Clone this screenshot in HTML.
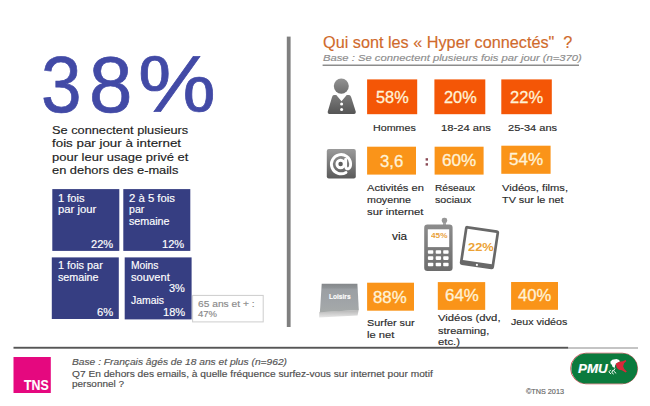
<!DOCTYPE html>
<html><head><meta charset="utf-8"><title>Hyper connectés</title>
<style>
html,body{margin:0;padding:0;background:#fff;}
body{width:650px;height:406px;position:relative;overflow:hidden;font-family:"Liberation Sans", sans-serif;}
.t{position:absolute;white-space:pre;line-height:1;transform-origin:0 0;font-family:"Liberation Sans", sans-serif;-webkit-text-stroke:0.15px currentColor;}
.b{position:absolute;}
</style></head><body>
<svg class="b" style="left:0;top:0;" width="650" height="406" viewBox="0 0 650 406">
<defs>
<linearGradient id="gp" x1="0" y1="0" x2="0" y2="1"><stop offset="0" stop-color="#7c7c7c"/><stop offset="1" stop-color="#555"/></linearGradient>
<linearGradient id="gh" x1="0" y1="0" x2="0" y2="1"><stop offset="0" stop-color="#939393"/><stop offset="1" stop-color="#6e6e6e"/></linearGradient>
<linearGradient id="ga" x1="0" y1="0" x2="0" y2="1"><stop offset="0" stop-color="#9a9a9a"/><stop offset="1" stop-color="#5a5a5a"/></linearGradient>
<linearGradient id="gl" x1="0" y1="0" x2="0" y2="1"><stop offset="0" stop-color="#84878a"/><stop offset="0.14" stop-color="#8f9396"/><stop offset="0.2" stop-color="#9b9fa3"/><stop offset="0.7" stop-color="#a1a5a8"/><stop offset="1" stop-color="#a6aaa9"/></linearGradient>
<linearGradient id="gs" x1="0" y1="0" x2="0" y2="1"><stop offset="0" stop-color="#b4b4b4"/><stop offset="1" stop-color="#e8e8e8"/></linearGradient>
<linearGradient id="gph" x1="0" y1="0" x2="0" y2="1"><stop offset="0" stop-color="#8c8c8c"/><stop offset="1" stop-color="#6c6c6c"/></linearGradient>
</defs>
<rect x="52.30" y="189.10" width="67.00" height="61.80" fill="#363e82"/>
<rect x="123.30" y="189.10" width="67.00" height="61.80" fill="#363e82"/>
<rect x="51.80" y="257.40" width="67.00" height="61.60" fill="#363e82"/>
<rect x="124.70" y="257.40" width="66.90" height="62.00" fill="#363e82"/>
<rect x="192.60" y="295.40" width="70.60" height="26.50" fill="#fff" stroke="#cdcdcd" stroke-width="1"/>
<rect x="286.80" y="36.60" width="3.80" height="290.40" fill="#7f7f7f"/>
<rect x="322.60" y="64.60" width="256.40" height="1.20" fill="#707070"/>
<rect x="13.50" y="346.80" width="554.60" height="1.90" fill="#555"/>
<rect x="568.00" y="347.50" width="70.00" height="1.00" fill="#8a8a8a"/>
<rect x="13.50" y="357.00" width="37.30" height="36.00" fill="#e5087f"/>
<rect x="367.10" y="79.40" width="50.10" height="34.80" fill="#f45606"/>
<rect x="434.40" y="79.40" width="50.90" height="34.80" fill="#f45606"/>
<rect x="501.30" y="79.40" width="50.50" height="34.80" fill="#f45606"/>
<rect x="367.10" y="146.70" width="48.90" height="27.90" fill="#fa9419"/>
<rect x="434.60" y="146.70" width="49.00" height="27.90" fill="#fa9419"/>
<rect x="501.30" y="145.70" width="49.30" height="28.10" fill="#fa9419"/>
<rect x="367.10" y="282.70" width="46.90" height="28.00" fill="#fa9419"/>
<rect x="437.80" y="282.10" width="47.40" height="27.80" fill="#fa9419"/>
<rect x="511.10" y="282.00" width="46.90" height="27.80" fill="#fa9419"/>
<rect x="425.60" y="158.20" width="2.40" height="2.40" fill="#8a4a55"/>
<rect x="425.60" y="163.20" width="2.40" height="2.40" fill="#8a4a55"/>
<!-- person -->
<ellipse cx="341.3" cy="86.1" rx="7.5" ry="7.7" fill="url(#gh)"/>
<path transform="translate(0.5 0)" d="M333.3 95 L335.8 95 L341 101.2 L346.2 95 L348.7 95 Q350.2 95.2 350.8 97.5 L355.3 111.8 Q355.6 113.8 353.8 113.9 L328.6 113.9 Q326.9 113.8 327.2 111.8 L331.4 97.5 Q331.9 95.2 333.3 95 Z" fill="url(#gp)"/>
<circle cx="341.6" cy="103.9" r="1.5" fill="#fff"/>
<circle cx="341.6" cy="109.5" r="1.5" fill="#fff"/>
<!-- @ icon -->
<rect x="326.8" y="148.9" width="29" height="29.5" rx="2" ry="2" fill="url(#ga)"/>
<g fill="none" stroke="#fff" stroke-width="2.9" stroke-linecap="round">
<circle cx="340.6" cy="164" r="3.7" fill="#5e5e5e"/>
<path d="M345.6 159.4 L345.6 166.2 Q345.8 169.2 348.2 168.8 Q350.8 168 350.6 163.4 A9.6 9.6 0 1 0 346 172.4"/>
</g>
<!-- loisirs note -->
<path d="M319.3 312 L358.6 310 L357.6 315.4 L319.1 317.6 Z" fill="url(#gs)"/>
<path d="M321.7 283.7 L357.4 283.7 L358.8 310 L319.9 312.2 Z" fill="url(#gl)"/>
<!-- phone -->
<rect x="443" y="221" width="3" height="5" fill="#a6a6a6"/>
<rect x="441.7" y="217.7" width="5.5" height="5.4" rx="2.4" fill="#979797"/>
<rect x="424.2" y="224.6" width="28.4" height="46.4" rx="3.2" fill="url(#gph)"/>
<rect x="427.8" y="229.3" width="21.4" height="17.8" fill="#fff"/>
<g fill="#fff">
<rect x="427.9" y="250.2" width="5.4" height="3.6" rx="0.8"/><rect x="435.7" y="250.2" width="5.4" height="3.6" rx="0.8"/><rect x="443.2" y="250.2" width="5.4" height="3.6" rx="0.8"/>
<rect x="427.9" y="256.3" width="5.4" height="3.6" rx="0.8"/><rect x="435.7" y="256.3" width="5.4" height="3.6" rx="0.8"/><rect x="443.2" y="256.3" width="5.4" height="3.6" rx="0.8"/>
<rect x="427.9" y="262.7" width="5.4" height="3.6" rx="0.8"/><rect x="435.7" y="262.7" width="5.4" height="3.6" rx="0.8"/><rect x="443.2" y="262.7" width="5.4" height="3.6" rx="0.8"/>
</g>
<!-- tablet -->
<g transform="rotate(8.5 479.5 247.4)">
<rect x="462.2" y="227.9" width="34.6" height="39.4" rx="2.4" fill="#686868"/>
<rect x="464.9" y="230.7" width="29.2" height="31.6" fill="#fff"/>
<circle cx="479.5" cy="265" r="1.1" fill="#fff"/>
</g>
<!-- PMU -->
<rect x="570.6" y="353.2" width="67" height="30.6" rx="15.3" fill="none" stroke="#c8323c" stroke-width="0.8"/>
<rect x="571.4" y="353.4" width="66" height="30.2" rx="15.1" fill="#0b7a3d"/>
<path d="M610.8 364.2 L610.3 361.8 L612.3 359.8 L616.4 359.1 L619.2 360.1 L619.9 362.0 L617.2 362.8 L615.2 365.0 L614.7 367.9 L612.5 366.7 L611.8 364.5 Z" fill="#fff"/>
<path d="M610.8 369.9 L608.8 371.9 L611.0 374.1 M615.0 368.4 L613.5 370.9 L616.2 373.4 M612.8 370.2 L611.8 372.6 L613.7 374.1" fill="none" stroke="#fff" stroke-width="1"/>
<path d="M615.7 363.8 L619.2 361.8 L622.8 361.3 L625.6 360.1 L626.3 361.3 L624.1 363.3 L623.1 366.2 L624.3 368.9 L626.8 371.6 L625.6 372.4 L621.9 370.2 L618.9 369.7 L616.7 367.7 Z" fill="#d8283a"/>
</svg>

<span class="t" style="left:40.98px;top:44.36px;font-size:80.5px;color:#424aa6;-webkit-text-stroke:0.7px #424aa6;transform:scaleX(0.9051);">3</span>
<span class="t" style="left:89.29px;top:44.36px;font-size:80.5px;color:#424aa6;-webkit-text-stroke:0.7px #424aa6;transform:scaleX(0.9692);">8</span>
<span class="t" style="left:138.23px;top:44.36px;font-size:80.5px;color:#424aa6;-webkit-text-stroke:0.7px #424aa6;transform:scaleX(1.0866);">%</span>
<span class="t" style="left:52.40px;top:124.63px;font-size:11.3px;color:#222;transform:scaleX(1.1296);">Se connectent plusieurs</span>
<span class="t" style="left:52.40px;top:138.23px;font-size:11.3px;color:#222;transform:scaleX(1.1814);">fois par jour à internet</span>
<span class="t" style="left:52.40px;top:151.93px;font-size:11.3px;color:#222;transform:scaleX(1.1493);">pour leur usage privé et</span>
<span class="t" style="left:52.40px;top:165.23px;font-size:11.3px;color:#222;transform:scaleX(1.1373);">en dehors des e-mails</span>
<span class="t" style="left:57.70px;top:193.63px;font-size:10px;color:#fff;transform:scaleX(1.1129);">1 fois</span>
<span class="t" style="left:57.70px;top:205.34px;font-size:10px;color:#fff;transform:scaleX(1.1279);">par jour</span>
<span class="t" style="left:90.60px;top:239.73px;font-size:10px;color:#fff;transform:scaleX(1.1082);">22%</span>
<span class="t" style="left:128.70px;top:193.63px;font-size:10px;color:#fff;transform:scaleX(1.1335);">2 à 5 fois</span>
<span class="t" style="left:128.70px;top:205.34px;font-size:10px;color:#fff;transform:scaleX(1.0580);">par</span>
<span class="t" style="left:128.70px;top:216.94px;font-size:10px;color:#fff;transform:scaleX(1.0723);">semaine</span>
<span class="t" style="left:162.00px;top:239.73px;font-size:10px;color:#fff;transform:scaleX(1.1082);">12%</span>
<span class="t" style="left:57.70px;top:260.74px;font-size:10px;color:#fff;transform:scaleX(1.0884);">1 fois par</span>
<span class="t" style="left:57.70px;top:272.74px;font-size:10px;color:#fff;transform:scaleX(1.0723);">semaine</span>
<span class="t" style="left:96.60px;top:308.04px;font-size:10px;color:#fff;transform:scaleX(1.1194);">6%</span>
<span class="t" style="left:130.60px;top:260.74px;font-size:10px;color:#fff;transform:scaleX(1.0309);">Moins</span>
<span class="t" style="left:130.60px;top:272.74px;font-size:10px;color:#fff;transform:scaleX(1.1065);">souvent</span>
<span class="t" style="left:169.10px;top:284.24px;font-size:10px;color:#fff;transform:scaleX(1.0988);">3%</span>
<span class="t" style="left:130.60px;top:295.84px;font-size:10px;color:#fff;transform:scaleX(1.0418);">Jamais</span>
<span class="t" style="left:162.80px;top:308.04px;font-size:10px;color:#fff;transform:scaleX(1.1082);">18%</span>
<span class="t" style="left:198.00px;top:300.18px;font-size:9px;color:#8a8a8a;transform:scaleX(1.1362);">65 ans et + :</span>
<span class="t" style="left:198.00px;top:310.48px;font-size:9px;color:#8a8a8a;transform:scaleX(1.0549);">47%</span>
<span class="t" style="left:322.50px;top:34.73px;font-size:15.8px;color:#d06a2c;transform:scaleX(1.0276);">Qui sont les « Hyper connectés"  ?</span>
<span class="t" style="left:322.80px;top:53.39px;font-size:9.7px;color:#8c8c8c;font-style:italic;transform:scaleX(1.1593);">Base : Se connectent plusieurs fois par jour (n=370)</span>
<span class="t" style="left:375.60px;top:88.63px;font-size:16.5px;color:#fff2d6;-webkit-text-stroke:0.3px #fff2d6;transform:scaleX(0.9894);">58%</span>
<span class="t" style="left:443.60px;top:88.63px;font-size:16.5px;color:#fff2d6;-webkit-text-stroke:0.3px #fff2d6;transform:scaleX(0.9894);">20%</span>
<span class="t" style="left:510.10px;top:88.63px;font-size:16.5px;color:#fff2d6;-webkit-text-stroke:0.3px #fff2d6;transform:scaleX(1.0014);">22%</span>
<span class="t" style="left:372.80px;top:122.60px;font-size:9.8px;color:#2a2a2a;transform:scaleX(1.0918);">Hommes</span>
<span class="t" style="left:440.50px;top:122.60px;font-size:9.8px;color:#2a2a2a;transform:scaleX(1.1448);">18-24 ans</span>
<span class="t" style="left:507.80px;top:122.60px;font-size:9.8px;color:#2a2a2a;transform:scaleX(1.1265);">25-34 ans</span>
<span class="t" style="left:379.70px;top:152.79px;font-size:16.2px;color:#fff2d6;-webkit-text-stroke:0.3px #fff2d6;transform:scaleX(1.0355);">3,6</span>
<span class="t" style="left:442.20px;top:152.76px;font-size:16.0px;color:#fff2d6;-webkit-text-stroke:0.3px #fff2d6;transform:scaleX(1.0693);">60%</span>
<span class="t" style="left:509.10px;top:151.86px;font-size:16.0px;color:#fff2d6;-webkit-text-stroke:0.3px #fff2d6;transform:scaleX(1.0693);">54%</span>
<span class="t" style="left:366.90px;top:182.80px;font-size:9.8px;color:#2a2a2a;transform:scaleX(1.1340);">Activités en</span>
<span class="t" style="left:366.90px;top:195.10px;font-size:9.8px;color:#2a2a2a;transform:scaleX(1.0917);">moyenne</span>
<span class="t" style="left:366.90px;top:206.70px;font-size:9.8px;color:#2a2a2a;transform:scaleX(1.1504);">sur internet</span>
<span class="t" style="left:435.10px;top:182.80px;font-size:9.8px;color:#2a2a2a;transform:scaleX(1.0395);">Réseaux</span>
<span class="t" style="left:435.10px;top:195.10px;font-size:9.8px;color:#2a2a2a;transform:scaleX(1.0925);">sociaux</span>
<span class="t" style="left:501.80px;top:182.80px;font-size:9.8px;color:#2a2a2a;transform:scaleX(1.1368);">Vidéos, films,</span>
<span class="t" style="left:501.80px;top:195.10px;font-size:9.8px;color:#2a2a2a;transform:scaleX(1.1072);">TV sur le net</span>
<span class="t" style="left:392.30px;top:231.02px;font-size:11.2px;color:#222;transform:scaleX(1.0544);">via</span>
<span class="t" style="left:430.60px;top:233.44px;font-size:6.8px;color:#e9a23b;font-weight:bold;-webkit-text-stroke:0;transform:scaleX(1.2094);">45%</span>
<span class="t" style="left:467.90px;top:242.63px;font-size:10px;color:#eca234;font-weight:bold;-webkit-text-stroke:0;transform:scaleX(1.2921);">22%</span>
<span class="t" style="left:373.30px;top:289.37px;font-size:16.1px;color:#fff2d6;-webkit-text-stroke:0.3px #fff2d6;transform:scaleX(1.0470);">88%</span>
<span class="t" style="left:444.60px;top:288.36px;font-size:16.0px;color:#fff2d6;-webkit-text-stroke:0.3px #fff2d6;transform:scaleX(1.0567);">64%</span>
<span class="t" style="left:518.00px;top:288.26px;font-size:16.0px;color:#fff2d6;-webkit-text-stroke:0.3px #fff2d6;transform:scaleX(1.0378);">40%</span>
<span class="t" style="left:366.90px;top:317.80px;font-size:9.8px;color:#2a2a2a;transform:scaleX(1.1086);">Surfer sur</span>
<span class="t" style="left:366.90px;top:330.00px;font-size:9.8px;color:#2a2a2a;transform:scaleX(1.1425);">le net</span>
<span class="t" style="left:438.30px;top:313.40px;font-size:9.8px;color:#2a2a2a;transform:scaleX(1.1520);">Vidéos (dvd,</span>
<span class="t" style="left:438.30px;top:325.60px;font-size:9.8px;color:#2a2a2a;transform:scaleX(1.1196);">streaming,</span>
<span class="t" style="left:438.30px;top:336.90px;font-size:9.8px;color:#2a2a2a;transform:scaleX(1.1548);">etc.)</span>
<span class="t" style="left:511.40px;top:317.30px;font-size:9.8px;color:#2a2a2a;transform:scaleX(1.0880);">Jeux vidéos</span>
<span class="t" style="left:71.70px;top:358.38px;font-size:9px;color:#555;font-style:italic;transform:scaleX(1.1354);">Base : Français âgés de 18 ans et plus (n=962)</span>
<span class="t" style="left:71.70px;top:369.78px;font-size:9px;color:#4d4d4d;transform:scaleX(1.1302);">Q7 En dehors des emails, à quelle fréquence surfez-vous sur internet pour motif</span>
<span class="t" style="left:71.70px;top:380.38px;font-size:9px;color:#4d4d4d;transform:scaleX(1.1057);">personnel ?</span>
<span class="t" style="left:23.80px;top:378.04px;font-size:14.6px;color:#fff;font-weight:bold;transform:scaleX(0.8454);">TNS</span>
<span class="t" style="left:526.00px;top:388.64px;font-size:6.8px;color:#666;transform:scaleX(1.0661);">©TNS 2013</span>
<span class="t" style="left:578.40px;top:363.46px;font-size:12.8px;color:#fff;font-weight:bold;font-style:italic;transform:scaleX(1.0481);">PMU</span>
<span class="t" style="left:328.50px;top:293.03px;font-size:8.0px;color:#fff;font-weight:bold;transform:scaleX(0.8215);">Loisirs</span>
</body></html>
